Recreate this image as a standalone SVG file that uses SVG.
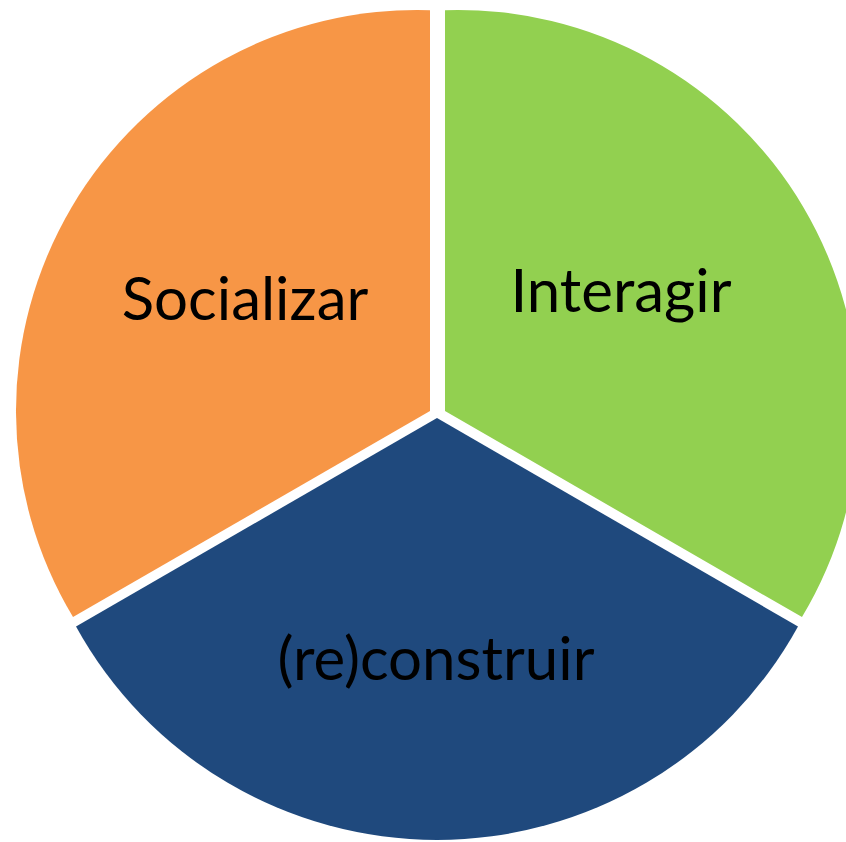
<svg xmlns="http://www.w3.org/2000/svg" width="846" height="842" viewBox="0 0 846 842">
<style>
.lbl{font-family:Lato,"Open Sans","Liberation Sans",sans-serif;font-size:60px;fill:#000;text-anchor:middle}
</style>
<rect width="846" height="842" fill="#fff"/>
<g id="socializar">
<path d="M430,411 L430,10.2 A401,401 0 0 0 73,617.1 Z" fill="#F79646"/>
<text class="lbl" x="245" y="320">Socializar</text>
</g>
<g id="interagir">
<path d="M445,411 L445,10.2 A401,401 0 0 1 802,617.1 Z" fill="#92D050"/>
<text class="lbl" x="621" y="312">Interagir</text>
</g>
<g id="reconstruir">
<path d="M437,418 L76,626.5 A412,412 0 0 0 798,626.5 Z" fill="#1F497D"/>
<text class="lbl" x="436" y="680">(re)construir</text>
</g>
<g id="connectors"/>
</svg>
